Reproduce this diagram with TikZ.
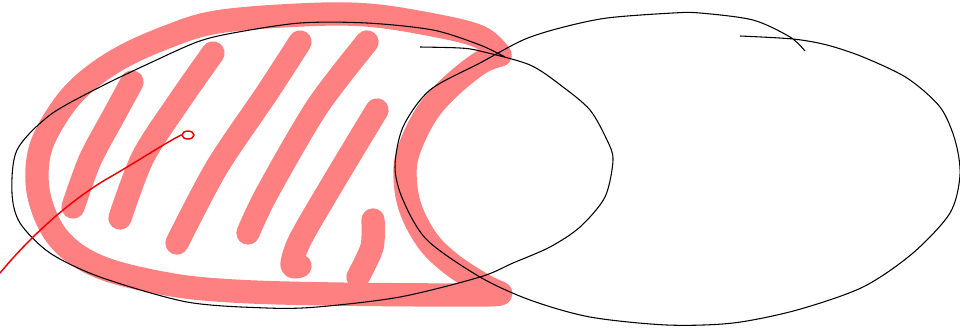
\documentclass[tikz,border=0pt]{standalone}
\usepackage{tikz}
\usepackage{xcolor}
\usetikzlibrary{shapes.geometric}
\definecolor{MarcaRosa}{HTML}{FF8080}
\definecolor{TracoVermelho}{HTML}{F00000}

\begin{document}
\begin{tikzpicture}[
    x=0.75pt, y=-0.75pt,
    contorno/.style={black, line width=0.8pt, line join=round},
    marcador/.style={MarcaRosa, line width=17.5pt, line cap=round, line join=round},
    ponteiro/.style={TracoVermelho, line width=1.1pt, line cap=round}
]
    \useasboundingbox (0,0) rectangle (960,333);

    % contorno rosa da regiao da esquerda
    \draw[marcador] plot[smooth, tension=0.6] coordinates {
        (500,293) (480,295) (333,294) (233,291) (167,284) (100,267)
        (60,240) (40,200) (38,160) (50,127) (77,90) (117,60) (167,37)
        (217,22) (300,15) (367,15) (433,25) (480,37) (500,55)};
    \draw[marcador] plot[smooth, tension=0.6] coordinates {
        (500,55) (480,63) (450,87) (427,113) (410,147) (405,173)
        (410,207) (427,240) (450,263) (480,283) (500,293)};

    % hachuras
    \draw[marcador] plot[smooth] coordinates {(132,82) (113,117) (90,160) (73,207)};
    \draw[marcador] plot[smooth] coordinates {(213,53) (180,100) (143,157) (120,218)};
    \draw[marcador] plot[smooth] coordinates {(300,42) (267,93) (217,167) (177,243)};
    \draw[marcador] plot[smooth] coordinates {(367,42) (317,107) (267,193) (248,233)};
    \draw[marcador] plot[smooth] coordinates {(377,110) (333,183) (300,240) (292,265) (300,266)};
    \draw[marcador] plot[smooth] coordinates {(373,220) (372,247) (358,277)};

    % conjunto da esquerda
    \draw[contorno] plot[smooth, tension=0.5] coordinates {
        (420,47) (460,48) (480,51) (530,65) (563,87) (590,110) (607,140)
        (613,160) (605,197) (580,227) (550,247) (513,263) (480,277)
        (400,297) (317,307) (267,308) (187,302) (100,277) (50,253)
        (20,223) (12,193) (17,150) (50,115) (100,87) (150,63) (197,42)
        (233,33) (300,23) (367,23) (433,30) (480,45) (505,57)};

    % conjunto da direita
    \draw[contorno] plot[smooth, tension=0.5] coordinates {
        (740,36) (793,39) (827,45) (863,57) (907,78) (940,107) (955,140)
        (960,175) (950,213) (913,253) (863,287) (797,310) (733,323)
        (667,325) (590,317) (530,300) (480,277) (427,240) (403,200)
        (395,167) (403,127) (430,90) (480,63) (523,40) (560,28) (607,18)
        (673,13) (700,13) (753,20) (790,37) (805,51)};

    % ponteiro vermelho
    \coordinate (ponta) at (0,273);
    \node[draw=TracoVermelho, line width=1.1pt, ellipse, minimum width=9pt,
          minimum height=6pt, inner sep=0pt] (alvo) at (188,135) {};
    \draw[ponteiro] (ponta) .. controls (40,225) and (80,195) .. (105,180)
        .. controls (140,160) and (165,143) .. (alvo.west);
\end{tikzpicture}
\end{document}
